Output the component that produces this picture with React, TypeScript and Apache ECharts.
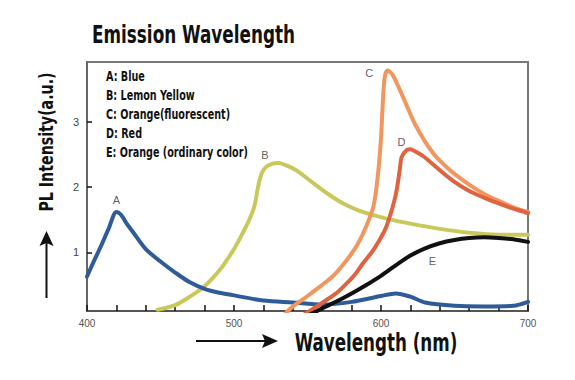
import React, { useEffect, useRef } from "react";
import * as echarts from "echarts";

const xTickLabels = [400, 500, 600, 700];
const yTickLabels = [1, 2, 3];

const seriesA: [number, number][] = [
  [400, 0.63], [405, 0.88], [410, 1.12], [415, 1.38], [420, 1.62], [423, 1.58], [427, 1.44], [431, 1.32],
  [440, 1.05], [450, 0.86], [460, 0.69], [470, 0.54], [480, 0.44], [490, 0.38], [500, 0.34], [520, 0.26],
  [540, 0.23], [560, 0.2], [580, 0.24], [600, 0.33], [610, 0.37], [620, 0.32], [630, 0.23], [650, 0.18],
  [670, 0.17], [690, 0.18], [700, 0.24],
];
const seriesB: [number, number][] = [
  [448, 0.12], [460, 0.19], [470, 0.32], [480, 0.48], [490, 0.72], [500, 1.05], [506, 1.3], [510, 1.48],
  [514, 1.72], [516.5, 2.02], [519, 2.22], [523, 2.33], [530, 2.37], [536, 2.33], [543, 2.25], [554, 2.06],
  [565, 1.88], [575, 1.74], [585, 1.64], [595, 1.57], [605, 1.51], [620, 1.44], [640, 1.36], [660, 1.3],
  [680, 1.27], [700, 1.27],
];
const seriesC: [number, number][] = [
  [535, 0.06], [540, 0.17], [550, 0.33], [560, 0.5], [568, 0.65], [577, 0.89], [584, 1.12], [590, 1.4],
  [595, 1.72], [598, 2.21], [600, 2.75], [601, 3.2], [602, 3.58], [603, 3.74], [604.5, 3.79], [608, 3.72],
  [615, 3.38], [624, 2.93], [635.5, 2.52], [647, 2.26], [660, 2.04], [670, 1.9], [680, 1.79], [690, 1.69],
  [700, 1.62],
];
const seriesD: [number, number][] = [
  [548, 0.05], [557, 0.18], [565, 0.3], [571, 0.4], [577, 0.53], [583, 0.68], [588, 0.84], [594, 1.01],
  [599, 1.19], [603, 1.36], [606, 1.55], [608.5, 1.74], [610.7, 1.96], [612, 2.15], [613, 2.31], [614, 2.46],
  [617.5, 2.57], [620, 2.58], [623, 2.55], [629, 2.47], [640, 2.26], [650, 2.08], [660, 1.94], [670, 1.84],
  [680, 1.75], [690, 1.67], [700, 1.6],
];
const seriesE: [number, number][] = [
  [552, 0.05], [560, 0.14], [570, 0.25], [580, 0.37], [590, 0.5], [600, 0.64], [610, 0.8], [620, 0.95],
  [630, 1.06], [640, 1.14], [650, 1.19], [660, 1.22], [670, 1.23], [680, 1.22], [690, 1.2], [700, 1.16],
];
const curveLabels: [number, number, string][] = [
  [420, 1.8, "A"], [521, 2.49, "B"], [592, 3.75, "C"], [614, 2.69, "D"], [635, 0.86, "E"],
];
const legendLines = [
  "A: Blue",
  "B: Lemon Yellow",
  "C: Orange(fluorescent)",
  "D: Red",
  "E: Orange (ordinary color)",
];

const COND = "'DejaVu Sans Condensed', 'DejaVu Sans', sans-serif";

export default function App() {
  const ref = useRef<HTMLDivElement>(null);
  useEffect(() => {
    if (!ref.current) return;
    const chart = echarts.init(ref.current, undefined, { renderer: "svg" });
    const line = (name: string, data: [number, number][], color: string, z: number) => ({
      name,
      type: "line",
      data,
      smooth: 0.3,
      showSymbol: false,
      symbol: "none",
      z,
      lineStyle: { color, width: 4, cap: "round" },
    });
    chart.setOption({
      animation: false,
      grid: {
        left: 87, right: 47, top: 62, bottom: 69,
        show: true, borderColor: "#777", borderWidth: 2,
      },
      xAxis: {
        type: "value", min: 400, max: 700, interval: 20,
        axisLine: { show: true, lineStyle: { color: "#555", width: 2 } },
        axisTick: { show: true, inside: true, length: 6, lineStyle: { color: "#111", width: 1.5 } },
        axisLabel: { customValues: xTickLabels, color: "#555", fontSize: 10, fontFamily: "'Liberation Sans', sans-serif", margin: 7 },
        splitLine: { show: false },
      },
      yAxis: {
        type: "value", min: 0.1, max: 3.92,
        axisLine: { show: true, lineStyle: { color: "#666", width: 2 } },
        axisTick: { show: true, inside: true, length: 5, customValues: yTickLabels, lineStyle: { color: "#111", width: 1.5 } },
        axisLabel: { customValues: yTickLabels, color: "#444", fontSize: 11, fontFamily: "'Liberation Sans', sans-serif", margin: 8 },
        splitLine: { show: false },
      },
      series: [
        line("B", seriesB, "#c9c95b", 2),
        line("A", seriesA, "#2f5c98", 3),
        line("C", seriesC, "#f0965e", 4),
        line("D", seriesD, "#e0633f", 5),
        line("E", seriesE, "#111111", 6),
        {
          type: "scatter",
          data: curveLabels,
          symbolSize: 1,
          itemStyle: { color: "rgba(0,0,0,0)" },
          z: 10,
          label: {
            show: true, position: "inside",
            formatter: (p: any) => p.value[2],
            color: "#333", fontSize: 11, fontFamily: "'Liberation Sans', sans-serif",
          },
        },
      ],
      graphic: [
        {
          type: "text", x: 92, y: 35, scaleX: 0.78,
          style: {
            text: "Emission Wavelength", fontSize: 24, fontWeight: "bold", fontFamily: COND,
            fill: "#111", textAlign: "left", textVerticalAlign: "middle",
          },
        },
        ...legendLines.map((t, i) => ({
          type: "text", x: 106, y: 76 + i * 19, scaleX: 0.765,
          style: {
            text: t, fontSize: 14, fontWeight: "bold", fontFamily: COND,
            fill: "#111", textAlign: "left", textVerticalAlign: "middle",
          },
        })),
        {
          type: "text", x: 46, y: 142, rotation: Math.PI / 2, scaleX: 0.79,
          style: {
            text: "PL Intensity(a.u.)", fontSize: 20, fontWeight: "bold", fontFamily: COND,
            fill: "#111", textAlign: "center", textVerticalAlign: "middle",
          },
        },
        {
          type: "text", x: 376, y: 343, scaleX: 0.775,
          style: {
            text: "Wavelength (nm)", fontSize: 24, fontWeight: "bold", fontFamily: COND,
            fill: "#111", textAlign: "center", textVerticalAlign: "middle",
          },
        },
        {
          type: "line", shape: { x1: 196, y1: 341, x2: 266, y2: 341 },
          style: { stroke: "#111", lineWidth: 2 },
        },
        {
          type: "polygon", shape: { points: [[278, 341], [262, 334], [265, 341], [262, 348]] },
          style: { fill: "#111" },
        },
        {
          type: "line", shape: { x1: 46.5, y1: 298, x2: 46.5, y2: 242 },
          style: { stroke: "#111", lineWidth: 2 },
        },
        {
          type: "polygon", shape: { points: [[46.5, 231], [39.5, 246], [46.5, 243], [53.5, 246]] },
          style: { fill: "#111" },
        },
      ],
    });
    return () => chart.dispose();
  }, []);
  return (
    <div
      ref={ref}
      style={{ position: "fixed", left: 0, top: 0, width: 575, height: 380, background: "#fff" }}
    />
  );
}
